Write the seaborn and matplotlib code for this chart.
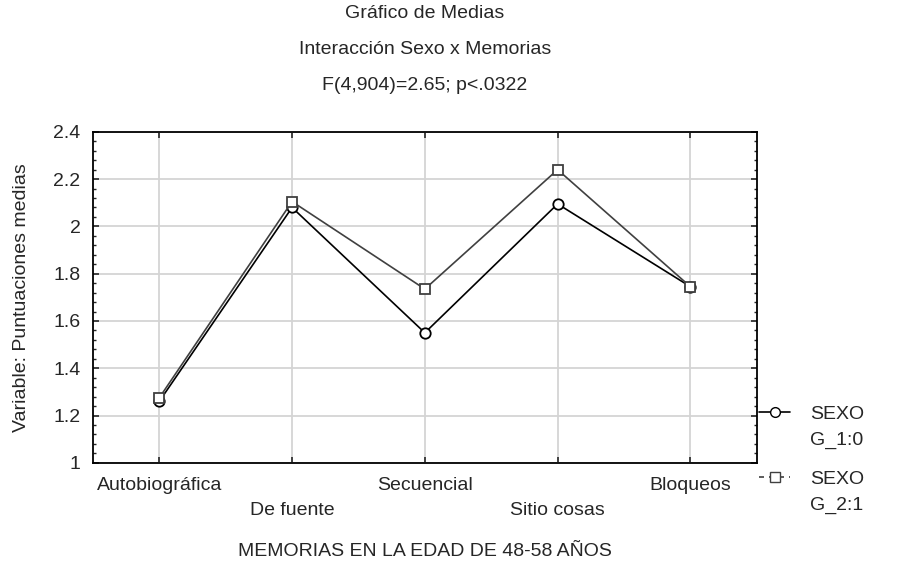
import matplotlib
matplotlib.use("Agg")
import matplotlib.pyplot as plt
import numpy as np
import pandas as pd
import seaborn as sns
from matplotlib.lines import Line2D
from matplotlib.ticker import MultipleLocator

categorias = ["Autobiográfica", "De fuente", "Secuencial", "Sitio cosas", "Bloqueos"]
g1_medias = [1.26, 2.08, 1.55, 2.095, 1.745]
g2_medias = [1.275, 2.105, 1.735, 2.24, 1.745]
grupos = ["SEXO\nG_1:0", "SEXO\nG_2:1"]
colores = ["black", "#404040"]


def main():
    sns.set_style("white")
    plt.rcParams["font.family"] = ["Liberation Sans", "DejaVu Sans"]

    df = pd.DataFrame({
        "memoria": categorias * 2,
        "media": g1_medias + g2_medias,
        "grupo": [grupos[0]] * 5 + [grupos[1]] * 5,
    })

    fig, ax = plt.subplots(figsize=(9.02, 5.61), dpi=100)
    fig.subplots_adjust(left=0.103, right=0.839, top=0.765, bottom=0.175)

    sns.lineplot(
        data=df, x="memoria", y="media", hue="grupo", style="grupo",
        palette=colores, markers=["o", "s"], dashes=False,
        markersize=7.5, markeredgewidth=1.3,
        linewidth=1.2, sort=False, legend=False, ax=ax,
    )
    # seaborn pone borde blanco; marcadores huecos con borde del color de la linea
    for ln, c in zip(ax.lines, colores):
        ln.set_markerfacecolor("white")
        ln.set_markeredgecolor(c)

    ax.set_xlim(-0.5, 4.5)
    ax.set_ylim(1, 2.4)
    ax.yaxis.set_minor_locator(MultipleLocator(0.04))
    ax.set_yticks(np.arange(1, 2.41, 0.2))
    ax.set_yticklabels(["1", "1.2", "1.4", "1.6", "1.8", "2", "2.2", "2.4"], fontsize=14)

    ax.set_xticks(range(len(categorias)))
    ax.set_xticklabels(
        [c if i % 2 == 0 else "\n" + c for i, c in enumerate(categorias)], fontsize=14
    )
    for lab in ax.get_xticklabels():
        lab.set_linespacing(1.65)
    ax.tick_params(axis="x", which="major", direction="in", length=4, top=True,
                   bottom=True, pad=10, width=1.2)
    ax.tick_params(axis="y", which="major", direction="in", length=4, left=True,
                   right=True, width=1.2, pad=9)
    ax.tick_params(axis="y", which="minor", direction="in", length=2.5, left=True,
                   right=True, width=1)

    ax.grid(True, which="major", color="#d4d4d4", linewidth=1.3)
    ax.set_axisbelow(True)
    for s in ax.spines.values():
        s.set_color("black")
        s.set_linewidth(1.3)

    ax.set_xlabel("MEMORIAS EN LA EDAD DE 48-58 AÑOS", fontsize=14, labelpad=17)
    ax.set_ylabel("Variable: Puntuaciones medias", fontsize=14, labelpad=17)
    ax.set_title("Gráfico de Medias\nInteracción Sexo x Memorias\nF(4,904)=2.65; p<.0322",
                 fontsize=14, linespacing=2.45, pad=30)

    blank = Line2D([], [], linestyle="none", marker=None)
    h1 = Line2D([], [], color=colores[0], marker="o", markerfacecolor="white",
                markeredgecolor=colores[0], markersize=7, linewidth=1.2)
    h2 = Line2D([], [], color=colores[1], marker="s", markerfacecolor="white",
                markeredgecolor=colores[1], markersize=7, linewidth=1.2,
                linestyle=(0, (3, 3)))
    opts = dict(loc="center left", frameon=False, fontsize=14, handlelength=1.6,
                labelspacing=0.44, handletextpad=1.0, borderaxespad=0)
    leg1 = ax.legend([h1, blank], ["SEXO", "G_1:0"], bbox_to_anchor=(0.992, 0.107), **opts)
    ax.add_artist(leg1)
    ax.legend([h2, blank], ["SEXO", "G_2:1"], bbox_to_anchor=(0.992, -0.089), **opts)

    fig.savefig("out.png", dpi=100)


if __name__ == "__main__":
    main()
